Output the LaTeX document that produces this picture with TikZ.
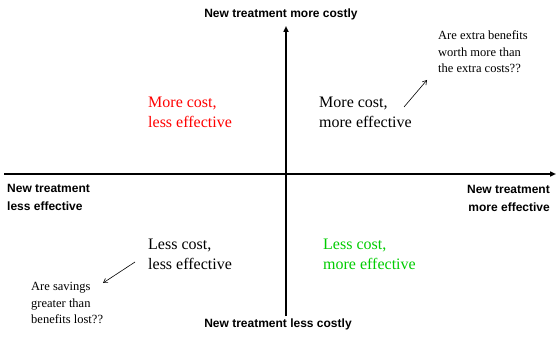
\documentclass[tikz,border=0pt]{standalone}
\usepackage{fontspec}
\setmainfont{Liberation Serif}
\newfontfamily\axisfont{Liberation Sans}
\usetikzlibrary{arrows.meta}
\definecolor{qred}{RGB}{255,0,0}
\definecolor{qgreen}{RGB}{0,204,0}
\begin{document}
\begin{tikzpicture}[x=1pt,y=-1pt,
  axis/.style={line width=1.6pt,-{Triangle[length=6pt,width=5pt]}},
  axislabel/.style={font=\axisfont\bfseries\fontsize{12}{18}\selectfont,align=center,inner sep=0pt},
  quadtext/.style={font=\fontsize{16}{20}\selectfont,align=left,inner sep=0pt,anchor=west},
  question/.style={font=\fontsize{12.5}{16.5}\selectfont,align=left,inner sep=0pt,anchor=west},
  pointer/.style={line width=0.6pt,-{Straight Barb[length=4pt,width=5pt]}}]
\useasboundingbox (0,0) rectangle (558,337);
% axes
\coordinate (west) at (4,174);
\coordinate (east) at (556,174);
\coordinate (south) at (286,316);
\coordinate (north) at (286,26);
\draw[axis] (west) -- (east);
\draw[axis] (south) -- (north);
% axis labels
\node[axislabel] (costly) at (281,14) {New treatment more costly};
\node[axislabel] (cheap) at (278,324) {New treatment less costly};
\node[axislabel,anchor=west,align=left] (lesseff) at (7,197) {New treatment\\less effective};
\node[axislabel,anchor=east,align=right] (moreeff) at (550,198) {New treatment\\more effective};
% quadrants
\node[quadtext,text=qred] (nw) at (148,112) {More cost,\\less effective};
\node[quadtext] (ne) at (319,112) {More cost,\\more effective};
\node[quadtext] (sw) at (148,254) {Less cost,\\less effective};
\node[quadtext,text=qgreen] (se) at (323,254) {Less cost,\\more effective};
% trade-off questions
\node[question] (qne) at (438,52) {Are extra benefits\\worth more than\\the extra costs??};
\node[question] (qsw) at (31,303) {Are savings\\greater than\\benefits lost??};
\coordinate (nefrom) at (404,107);
\coordinate (neto) at (427,80);
\coordinate (swfrom) at (135,262);
\coordinate (swto) at (103,283);
\draw[pointer] (nefrom) -- (neto);
\draw[pointer] (swfrom) -- (swto);
\end{tikzpicture}
\end{document}
